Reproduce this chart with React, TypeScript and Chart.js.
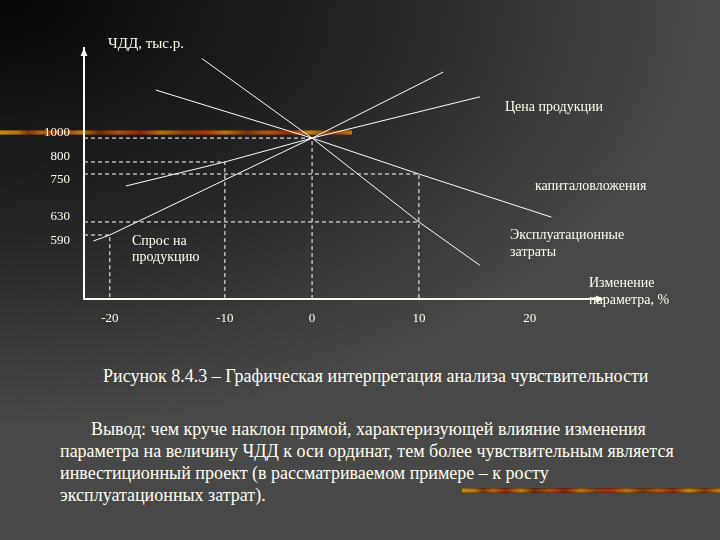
import React, { useEffect, useRef } from 'react';
import { Chart, registerables, LinearScale } from 'chart.js';

Chart.register(...registerables);

// ---------- data ----------
// axis ticks
const xTicks = [-20, -10, 0, 10, 20]; // изменение параметра, %
const yTicks = [590, 630, 750, 800, 1000]; // ЧДД, тыс. р.

// sensitivity lines: parameter change (%) -> ЧДД (тыс. р.)
const priceX = [-21.6, -20, 0, 12.2];
const priceY = [572, 590, 1000, 1440];
const demandX = [-18.6, -10, 0, 15.5];
const demandY = [720, 800, 1000, 1275];
const capexX = [-16, 0, 10, 22];
const capexY = [1320, 1000, 750, 642];
const opexX = [-12, 0, 10, 15.5];
const opexY = [1530, 1000, 630, 500];

// reference (dashed) read-off points
const refX = [0, -10, 10, 10, -20];
const refY = [1000, 800, 750, 630, 590];
const refDrop = [true, true, true, false, true];

// axis ranges
const xMin = -22.5;
const xMax = 26.5;
const yMin = 400;
const yMax = 1600;

// hand-drawn (non-uniform) axis layout: [value, fraction of axis length]
const AXIS_ANCHORS: Record<string, number[][]> = {
  x: [[xMin, 0], [-20, 0.05], [-10, 0.273], [0, 0.442], [10, 0.649], [20, 0.864], [xMax, 1]],
  y: [[yMin, 0], [590, 0.255], [630, 0.307], [750, 0.498], [800, 0.546], [1000, 0.641], [yMax, 1]],
};

// y tick labels that sit below their dashed line in the original (others sit above)
const LABEL_BELOW = new Set([590, 750]);

function mapThrough(pairs: number[][], v: number, i: number, o: number) {
  const n = pairs.length;
  let k = 0;
  while (k < n - 2 && v > pairs[k + 1][i]) k++;
  const a = pairs[k];
  const b = pairs[k + 1];
  const t = (v - a[i]) / (b[i] - a[i]);
  return a[o] + t * (b[o] - a[o]);
}

class AnchoredScale extends LinearScale {
  static id = 'anchored';
  static defaults = {};
  getPixelForValue(value: any) {
    if (value === null || value === undefined || isNaN(value)) return NaN;
    const anchors = AXIS_ANCHORS[(this as any).axis] || AXIS_ANCHORS.y;
    return this.getPixelForDecimal(mapThrough(anchors, +value, 0, 1));
  }
  getValueForPixel(pixel: number) {
    const anchors = AXIS_ANCHORS[(this as any).axis] || AXIS_ANCHORS.y;
    return mapThrough(anchors, this.getDecimalForPixel(pixel), 1, 0);
  }
}
Chart.register(AnchoredScale as any);

const zip = (xs: number[], ys: number[]) => xs.map((x, i) => ({ x, y: ys[i] }));

const FONT = '"Liberation Serif", "Times New Roman", serif';
const TEXT = '#fffff0';
const AXIS = '#fffff0';

const arrows = {
  id: 'axisArrows',
  afterDraw(chart: any) {
    const { ctx, chartArea: a } = chart;
    ctx.save();
    ctx.fillStyle = AXIS;
    ctx.beginPath();
    ctx.moveTo(a.left, a.top);
    ctx.lineTo(a.left - 3.5, a.top + 8);
    ctx.lineTo(a.left + 3.5, a.top + 8);
    ctx.closePath();
    ctx.fill();
    ctx.beginPath();
    ctx.moveTo(a.right + 4, a.bottom);
    ctx.lineTo(a.right - 4, a.bottom - 3.5);
    ctx.lineTo(a.right - 4, a.bottom + 3.5);
    ctx.closePath();
    ctx.fill();
    ctx.restore();
  },
};

function ChartCanvas() {
  const ref = useRef<HTMLCanvasElement | null>(null);
  useEffect(() => {
    if (!ref.current) return;
    const solid = (data: { x: number; y: number }[]) => ({
      data,
      borderColor: '#ffffff',
      borderWidth: 1,
      pointRadius: 0,
      tension: 0,
    });
    const dashed = refX.map((x, i) => {
      const pts = [
        { x: xMin, y: refY[i] },
        { x, y: refY[i] },
      ];
      if (refDrop[i]) pts.push({ x, y: yMin });
      return {
        data: pts,
        borderColor: '#ffffff',
        borderWidth: 1,
        borderDash: [4, 3],
        pointRadius: 0,
        tension: 0,
      };
    });
    const chart = new Chart(ref.current, {
      type: 'line',
      data: {
        datasets: [
          ...dashed,
          solid(zip(priceX, priceY)),
          solid(zip(demandX, demandY)),
          solid(zip(capexX, capexY)),
          solid(zip(opexX, opexY)),
        ] as any,
      },
      options: {
        animation: false,
        responsive: false,
        events: [],
        layout: { padding: { left: 0, top: 48, right: 120, bottom: 11 } },
        plugins: { legend: { display: false }, tooltip: { enabled: false }, title: { display: false } },
        scales: {
          x: {
            type: 'anchored' as any,
            min: xMin,
            max: xMax,
            grid: { display: false, drawTicks: false },
            border: { display: true, color: AXIS, width: 2 },
            ticks: {
              autoSkip: false,
              padding: 12,
              color: TEXT,
              font: { family: FONT, size: 13 },
              callback: (v: any) => String(v),
            },
            afterBuildTicks: (s: any) => {
              s.ticks = xTicks.map((v) => ({ value: v }));
            },
            afterFit: (s: any) => {
              s.height = 30;
            },
          },
          y: {
            type: 'anchored' as any,
            min: yMin,
            max: yMax,
            grid: { display: false, drawTicks: false },
            border: { display: true, color: AXIS, width: 2 },
            ticks: {
              autoSkip: false,
              padding: 14,
              color: TEXT,
              font: { family: FONT, size: 13, lineHeight: 0.9 },
              callback: (v: any) => (LABEL_BELOW.has(v) ? ['', String(v)] : [String(v), '']),
            },
            afterBuildTicks: (s: any) => {
              s.ticks = yTicks.map((v) => ({ value: v }));
            },
            afterFit: (s: any) => {
              s.width = 84;
            },
          },
        },
      } as any,
      plugins: [arrows],
    });
    return () => chart.destroy();
  }, []);
  return <canvas ref={ref} width={720} height={340} style={{ display: 'block' }} />;
}

const stripBg =
  'linear-gradient(180deg, rgba(50,15,0,0.55), rgba(0,0,0,0) 35%, rgba(0,0,0,0) 65%, rgba(50,15,0,0.55)),' +
  'linear-gradient(90deg, #c8921a 0%, #b07a18 5%, #7a3a12 8%, #b86a18 12%, #8e2c16 17%, #b8801c 23%, #6a3014 28%, #a85418 34%, #842418 40%, #b8781a 46%, #7c4416 52%, #a8301c 58%, #b8781a 64%, #6e3a16 70%, #b06018 76%, #8e2a1a 82%, #c08a1c 88%, #7a3c12 94%, #c4801a 100%)';

function Label({ left, top, lh = 16, size = 14, children }: any) {
  return (
    <div
      style={{
        position: 'absolute',
        left,
        top,
        fontSize: size,
        lineHeight: lh + 'px',
        whiteSpace: 'nowrap',
        color: TEXT,
      }}
    >
      {children}
    </div>
  );
}

export default function App() {
  return (
    <div
      style={{
        position: 'fixed',
        left: 0,
        top: 0,
        width: 720,
        height: 540,
        overflow: 'hidden',
        fontFamily: FONT,
        color: TEXT,
        background: 'radial-gradient(ellipse 700px 430px at 0px 0px, #050505 0%, #262626 55%, #484848 100%)',
        backgroundColor: '#484848',
      }}
    >
      <div style={{ position: 'absolute', left: 0, top: 130, width: 352, height: 5, background: stripBg }} />
      <div style={{ position: 'absolute', left: 462, top: 488, width: 258, height: 5, background: stripBg }} />
      <div style={{ position: 'absolute', left: 0, top: 0 }}>
        <ChartCanvas />
      </div>

      <Label left={108} top={34} size={15} lh={18}>ЧДД, тыс.р.</Label>
      <Label left={505} top={99}>Цена продукции</Label>
      <Label left={535} top={178}>капиталовложения</Label>
      <Label left={510} top={226} lh={17}>
        Эксплуатационные
        <br />
        затраты
      </Label>
      <Label left={132} top={233}>
        Спрос на
        <br />
        продукцию
      </Label>
      <Label left={589} top={274} lh={17}>
        Изменение
        <br />
        параметра, %
      </Label>

      <Label left={103} top={365} size={18} lh={22}>
        Рисунок 8.4.3 – Графическая интерпретация анализа чувствительности
      </Label>
      <Label left={91} top={418} size={18} lh={22}>
        Вывод: чем круче наклон прямой, характеризующей влияние изменения
      </Label>
      <Label left={60} top={440} size={18} lh={22}>
        параметра на величину ЧДД к оси ординат, тем более чувствительным является
        <br />
        инвестиционный проект (в рассматриваемом примере – к росту
        <br />
        эксплуатационных затрат).
      </Label>
    </div>
  );
}
